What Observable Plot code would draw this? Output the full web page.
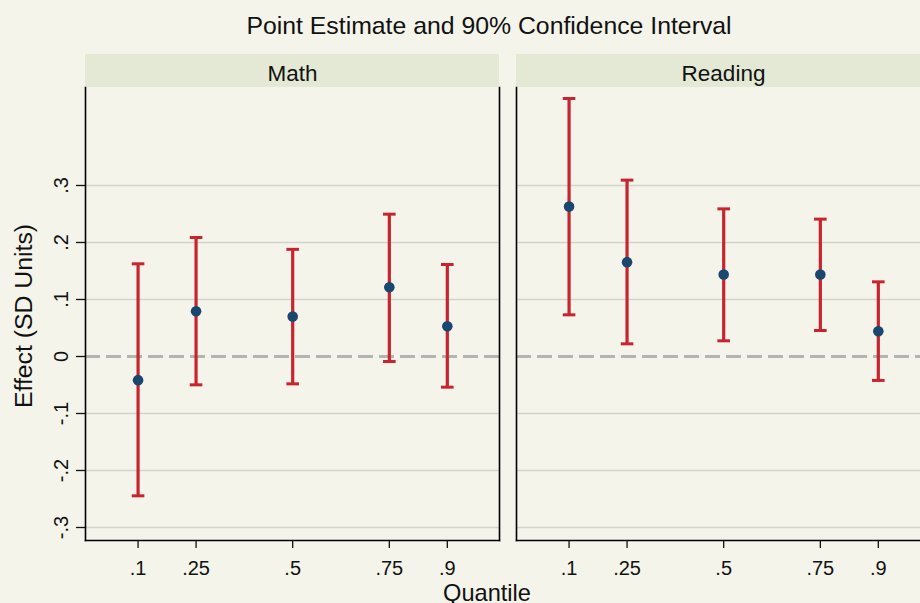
<!DOCTYPE html>
<html>
<head>
<meta charset="utf-8">
<script src="https://cdn.jsdelivr.net/npm/d3@7"></script>
<script src="https://cdn.jsdelivr.net/npm/@observablehq/plot@0.6"></script>
<style>
  html, body { margin: 0; padding: 0; background: #F4F4EA; overflow: hidden; width: 920px; height: 603px; }
  #chart { position: relative; width: 920px; height: 603px; overflow: hidden; }
  #chart svg { position: absolute; left: 0; top: 0; max-width: none !important; }
</style>
</head>
<body>
<div id="chart"></div>
<script>
// ---- Data ----
const subjects = ["Math", "Reading"];
const quantiles = [0.1, 0.25, 0.5, 0.75, 0.9];
const mathEst = [-0.0415, 0.0795, 0.070, 0.1216, 0.053];
const mathLo  = [-0.2444, -0.0497, -0.048, -0.0088, -0.0538];
const mathHi  = [0.1626, 0.2088, 0.188, 0.2497, 0.1614];
const readEst = [0.263, 0.1655, 0.1439, 0.1439, 0.0444];
const readLo  = [0.0731, 0.0222, 0.0275, 0.0456, -0.042];
const readHi  = [0.4526, 0.3094, 0.259, 0.241, 0.131];
const yTicks = [-0.3, -0.2, -0.1, 0, 0.1, 0.2, 0.3];
const xTicks = [0.1, 0.25, 0.5, 0.75, 0.9];
const titleText = "Point Estimate and 90% Confidence Interval";
const yLabel = "Effect (SD Units)";
const xLabel = "Quantile";

// table built from arrays
const rows = [];
quantiles.forEach((q, i) => rows.push({subject: "Math", q, est: mathEst[i], lo: mathLo[i], hi: mathHi[i]}));
quantiles.forEach((q, i) => rows.push({subject: "Reading", q, est: readEst[i], lo: readLo[i], hi: readHi[i]}));

const stripFill = "#E3E9D4";
const red = "#C8242F";
const navy = "#1A476F";
const font = "'Liberation Sans', Arial, Helvetica, sans-serif";

const fmt = d => d === 0 ? "0" : String(d).replace(/^(-?)0\./, "$1.");

const capSymbol = {
  draw(context, size) {
    const w = Math.sqrt(size / Math.PI);
    context.moveTo(-w, 0);
    context.lineTo(w, 0);
  }
};

const W = 940, H = 603;
const plot = Plot.plot({
  width: W,
  height: H,
  marginTop: 87,
  marginBottom: 63,
  marginLeft: 85,
  marginRight: 9,
  style: {background: "transparent", fontFamily: font, fontSize: "20px", color: "#111", maxWidth: "none"},
  fx: {domain: subjects, paddingInner: 0.0394, paddingOuter: 0, axis: null, label: null},
  x: {domain: [-0.036, 1.035], axis: null},
  y: {domain: [-0.3228, 0.4719], axis: null},
  marks: [
    Plot.gridY(yTicks.filter(d => d !== 0), {stroke: "#D3D3CB", strokeOpacity: 1, strokeWidth: 1.3}),
    Plot.ruleY([0], {stroke: "#B4B4B0", strokeWidth: 3.2, strokeDasharray: "15,6"}),
    Plot.frame({anchor: "left", stroke: "#000", strokeWidth: 1.6}),
    Plot.frame({anchor: "right", stroke: "#000", strokeWidth: 1.6}),
    Plot.frame({anchor: "bottom", stroke: "#000", strokeWidth: 1.6}),
    Plot.axisY(yTicks, {anchor: "left", tickSize: 9, tickFormat: () => "", label: null, strokeWidth: 1.3}),
    Plot.text(yTicks, {
      y: d => d, fx: () => "Math", frameAnchor: "left", dx: -18, rotate: -90,
      text: fmt, textAnchor: "middle", lineAnchor: "bottom", fontSize: 20, fill: "#111"
    }),
    Plot.axisX(xTicks, {anchor: "bottom", tickSize: 8, tickPadding: 12, tickFormat: fmt, label: null, fontSize: 20, strokeWidth: 1.3}),
    Plot.text(subjects, {fx: d => d, text: d => d, frameAnchor: "top", dy: -7, lineAnchor: "bottom", fontSize: 22.5, fill: "#111"}),
    Plot.ruleX(rows, {fx: "subject", x: "q", y1: "lo", y2: "hi", stroke: red, strokeWidth: 3.2}),
    Plot.dot(rows, {fx: "subject", x: "q", y: "hi", symbol: capSymbol, r: 6.3, stroke: red, fill: "none", strokeWidth: 3}),
    Plot.dot(rows, {fx: "subject", x: "q", y: "lo", symbol: capSymbol, r: 6.3, stroke: red, fill: "none", strokeWidth: 3}),
    Plot.dot(rows, {fx: "subject", x: "q", y: "est", r: 5.3, fill: navy, stroke: "none"})
  ]
});

plot.style.maxWidth = "none";
plot.style.width = W + "px";
plot.style.height = H + "px";
document.getElementById("chart").appendChild(plot);

// strip backgrounds behind facet headers
const svg = d3.select(plot);
const fxs = plot.scale("fx");
const stripG = svg.insert("g", ":first-child");
subjects.forEach(s => {
  stripG.append("rect")
    .attr("x", fxs.apply(s))
    .attr("y", 54)
    .attr("width", fxs.bandwidth)
    .attr("height", 33)
    .attr("fill", stripFill);
});

// title and axis titles
svg.append("text")
  .attr("x", 489).attr("y", 34)
  .attr("text-anchor", "middle")
  .attr("font-size", 24.8).attr("font-family", font).attr("fill", "#111")
  .text(titleText);
svg.append("text")
  .attr("transform", "translate(32,316) rotate(-90)")
  .attr("text-anchor", "middle")
  .attr("font-size", 24.8).attr("font-family", font).attr("fill", "#111")
  .text(yLabel);
svg.append("text")
  .attr("x", 487).attr("y", 600.5)
  .attr("text-anchor", "middle")
  .attr("font-size", 23.6).attr("font-family", font).attr("fill", "#111")
  .text(xLabel);
</script>
</body>
</html>
